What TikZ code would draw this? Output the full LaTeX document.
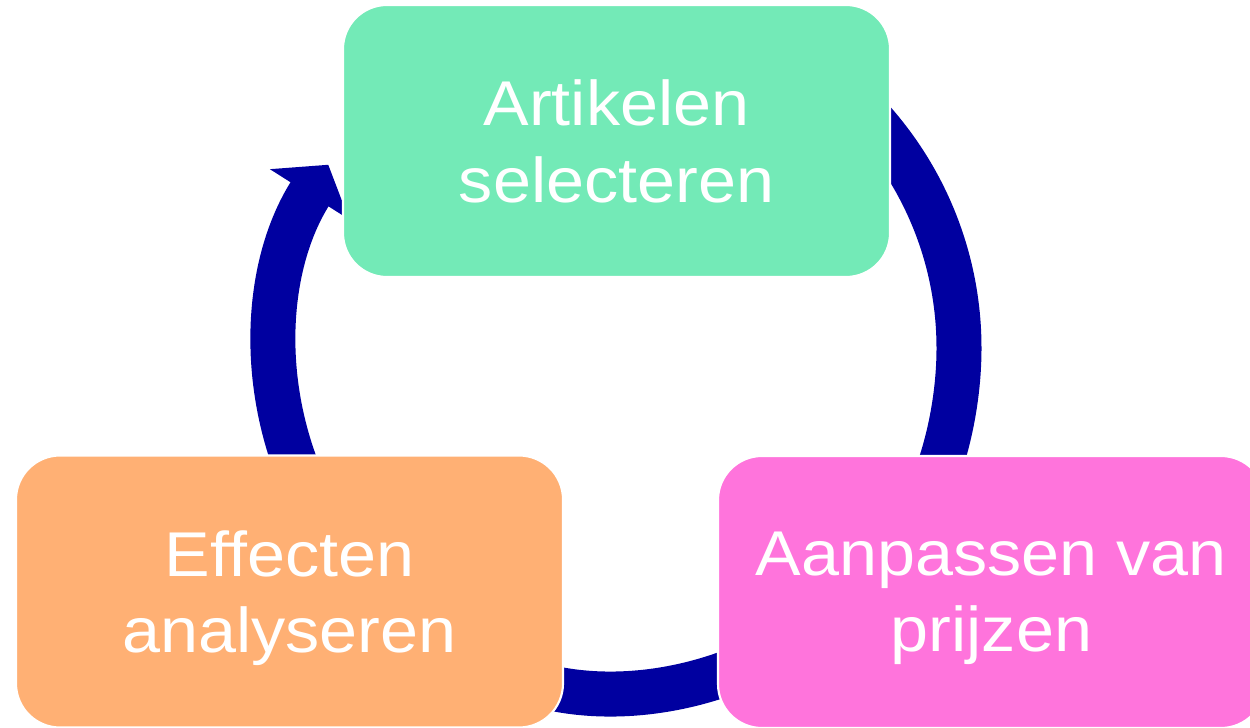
\documentclass[tikz,border=0pt]{standalone}
\usepackage{fontspec}
\setmainfont{Liberation Sans}[FakeStretch=1.08]
\usepackage{xcolor}
\definecolor{mint}{RGB}{115, 234, 183}
\definecolor{abrikoos}{RGB}{255, 176, 116}
\definecolor{roze}{RGB}{255, 116, 220}
\definecolor{nachtblauw}{RGB}{0, 0, 160}
\usetikzlibrary{arrows.meta, backgrounds}

\begin{document}
\begin{tikzpicture}[
  stap/.style={rectangle, rounded corners=0.88cm, draw=white, line width=1.2pt, text=white, font=\fontsize{36}{43.5}\selectfont, align=center, text depth=0pt, minimum width=10.94cm, minimum height=5.44cm, inner sep=0pt},
  ring/.style={draw=nachtblauw, line width=0.9cm, -{Triangle[length=0.7cm, width=1.84cm]}}
]
  \useasboundingbox (0,0) rectangle (25,14.54);
  \coordinate (hub) at (12.34,7.58);
  \def\straal{6.84}

  \node[stap, fill=mint] (selecteren) at (12.33,11.72) {Artikelen\\selecteren};
  \node[stap, fill=roze] (aanpassen) at (19.83,2.70) {Aanpassen van\\prijzen};
  \node[stap, fill=abrikoos] (analyseren) at (5.79,2.71) {Effecten\\analyseren};

  % de cyclus loopt achter de blokken
  \begin{scope}[on background layer]
    \draw[ring] ([shift={(60:\straal)}]hub) arc[start angle=60, end angle=-35, radius=\straal];
    \draw[ring] ([shift={(-45:\straal)}]hub) arc[start angle=-45, end angle=-115, radius=\straal];
    \draw[ring] ([shift={(210:\straal)}]hub) arc[start angle=210, end angle=147.6, radius=\straal];
  \end{scope}
\end{tikzpicture}
\end{document}
